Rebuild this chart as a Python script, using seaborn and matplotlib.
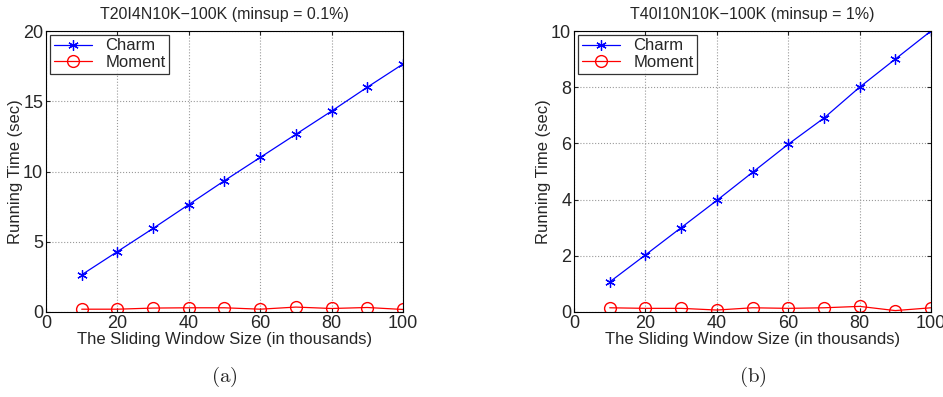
import numpy as np
import pandas as pd
import matplotlib
matplotlib.use("Agg")
import matplotlib.pyplot as plt
import seaborn as sns

sns.set_style("white")
plt.rcParams['font.family'] = ['Liberation Sans', 'DejaVu Sans']
plt.rcParams['mathtext.fontset'] = 'cm'

# window sizes (thousands)
window = [10, 20, 30, 40, 50, 60, 70, 80, 90, 100]

# (a) T20I4N10K-100K, minsup 0.1%
charm_a = [2.65, 4.3, 5.95, 7.65, 9.35, 11.0, 12.65, 14.3, 16.0, 17.65]
moment_a = [0.2, 0.2, 0.28, 0.3, 0.3, 0.2, 0.35, 0.25, 0.32, 0.18]

# (b) T40I10N10K-100K, minsup 1%
charm_b = [1.07, 2.03, 3.0, 3.97, 4.97, 5.97, 6.9, 8.0, 9.0, 10.0]
moment_b = [0.15, 0.13, 0.13, 0.07, 0.15, 0.13, 0.15, 0.2, 0.05, 0.15]

titles = ["T20I4N10K\u2212100K (minsup = 0.1%)", "T40I10N10K\u2212100K (minsup = 1%)"]
ylims = [(0, 20), (0, 10)]
yticks = [[0, 5, 10, 15, 20], [0, 2, 4, 6, 8, 10]]
panel = ["(a)", "(b)"]

fig = plt.figure(figsize=(9.43, 3.97), dpi=100)
axes = [fig.add_axes([46/943, 1 - 312/397, 357/943, 281/397]),
        fig.add_axes([574/943, 1 - 312/397, 357/943, 281/397])]

data = [(charm_a, moment_a), (charm_b, moment_b)]
for i, ax in enumerate(axes):
    ch, mo = data[i]
    df = pd.DataFrame({"x": window * 2, "y": ch + mo,
                       "algo": ["Charm"] * len(window) + ["Moment"] * len(window)})
    sns.lineplot(data=df, x="x", y="y", hue="algo", style="algo",
                 palette={"Charm": "#0000ff", "Moment": "#ff0000"},
                 markers={"Charm": "*", "Moment": "o"}, dashes=False,
                 lw=0.9, ax=ax, legend=False)
    # matlab-like markers: asterisk and hollow circle
    ax.lines[0].set_marker((6, 2, 0))
    ax.lines[0].set_markersize(7.5)
    ax.lines[0].set_markeredgecolor("#0000ff")
    ax.lines[0].set_markeredgewidth(0.9)
    ax.lines[1].set_markerfacecolor("none")
    ax.lines[1].set_markeredgecolor("#ff0000")
    ax.lines[1].set_markersize(8.5)
    ax.lines[1].set_markeredgewidth(1.0)

    ax.set_xlim(0, 100)
    ax.set_ylim(*ylims[i])
    ax.set_xticks([0, 20, 40, 60, 80, 100])
    ax.set_yticks(yticks[i])
    ax.grid(True, linestyle=":", color="#999999", lw=0.8)
    ax.tick_params(direction="in", length=3, labelsize=13, pad=2,
                   top=True, right=True, bottom=True, left=True)
    for s in ax.spines.values():
        s.set_color("black")
        s.set_linewidth(0.8)
    ax.set_xlabel("The Sliding Window Size (in thousands)", fontsize=12, labelpad=0)
    ax.set_ylabel("Running Time (sec)", fontsize=12, labelpad=0)
    ax.set_title(titles[i], fontsize=11.5, pad=9)

    leg = ax.legend(handles=ax.lines[:2], labels=["Charm", "Moment"],
                    loc="upper left", fontsize=12, frameon=True, fancybox=False,
                    borderaxespad=0.25, handlelength=2.3, borderpad=0.2,
                    labelspacing=0.1, handletextpad=0.8)
    leg.get_frame().set_edgecolor("black")
    leg.get_frame().set_linewidth(0.9)

    x0 = axes[i].get_position().x0 + axes[i].get_position().width / 2
    fig.text(x0, 1 - 377/397, r"$\mathrm{" + panel[i] + "}$", ha="center",
             va="center", fontsize=15)

fig.savefig("out.png", dpi=100)
